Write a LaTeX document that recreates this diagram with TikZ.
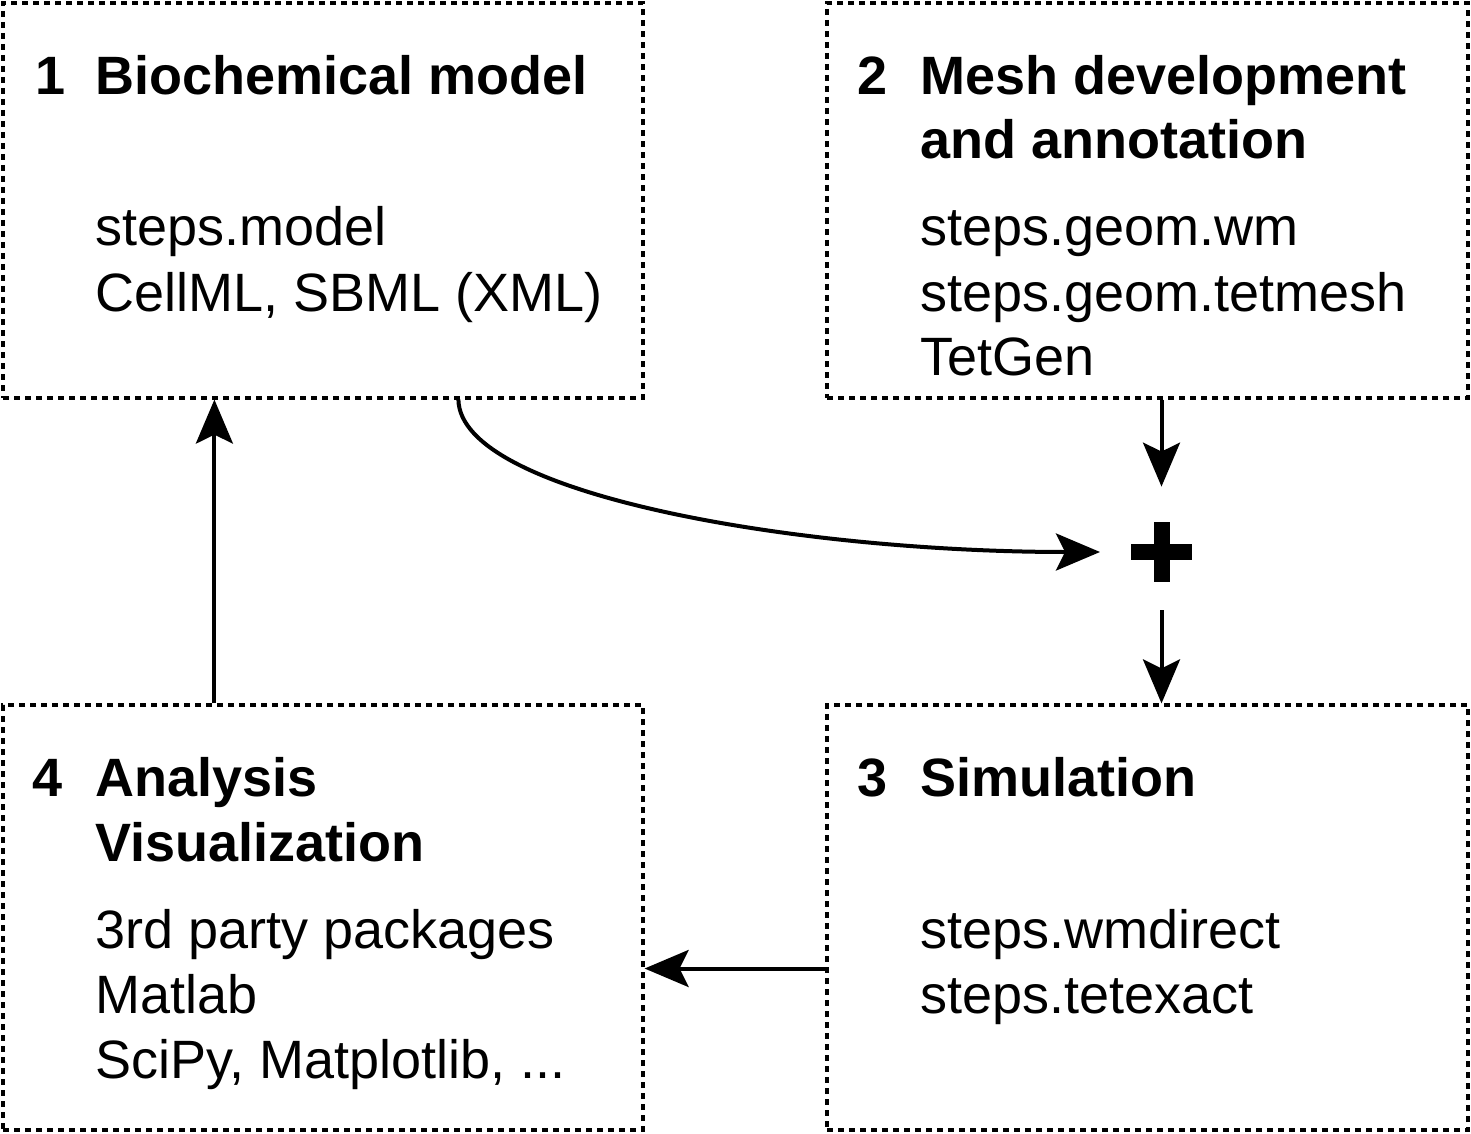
\documentclass[tikz,border=0pt]{standalone}
\usepackage{fontspec}
\setmainfont{Liberation Sans}
\usetikzlibrary{arrows.meta,calc}
\begin{document}
\begin{tikzpicture}[x=0.5pt,y=-0.5pt,
  box/.style={draw,line width=1.6pt,dash pattern=on 3pt off 2.5pt,inner sep=0pt,minimum width=320pt},
  num/.style={anchor=base west,inner sep=0pt,font=\fontsize{27}{32}\selectfont\bfseries},
  ttl/.style={anchor=base west,inner sep=0pt,font=\fontsize{27}{32}\selectfont\bfseries},
  txt/.style={anchor=base west,inner sep=0pt,font=\fontsize{27}{32}\selectfont},
  arr/.style={line width=2pt,-{Stealth[length=22pt,width=18.5pt,inset=4.5pt]}}]
\useasboundingbox (0,0) rectangle (1471,1134);
% boxes
\node[box,minimum height=197.5pt] (b1) at (323,200.5) {};
\node[box,minimum height=197.5pt,minimum width=320.5pt] (b2) at (1147.5,200.5) {};
\node[box,minimum height=212.5pt] (b4) at (323,917.5) {};
\node[box,minimum height=212.5pt,minimum width=320.5pt] (b3) at (1147.5,917.5) {};
% box 1
\node[num] (n1) at (35,95) {1};
\node[ttl] (t1) at (95,95) {Biochemical model};
\node[txt] (l11) at (95,246) {steps.model};
\node[txt] (l12) at (95,311) {CellML, SBML (XML)};
% box 2
\node[num] (n2) at (857,95) {2};
\node[ttl] (t2a) at (920,95) {Mesh development};
\node[ttl] (t2b) at (920,159) {and annotation};
\node[txt] (l21) at (920,246) {steps.geom.wm};
\node[txt] (l22) at (920,311) {steps.geom.tetmesh};
\node[txt] (l23) at (920,375) {TetGen};
% box 3
\node[num] (n3) at (857,796) {3};
\node[ttl] (t3) at (920,796) {Simulation};
\node[txt] (l31) at (920,948) {steps.wmdirect};
\node[txt] (l32) at (920,1013) {steps.tetexact};
% box 4
\node[num] (n4) at (32,796) {4};
\node[ttl] (t4a) at (95,796) {Analysis};
\node[ttl] (t4b) at (95,861) {Visualization};
\node[txt] (l41) at (95,948) {3rd party packages};
\node[txt] (l42) at (95,1013) {Matlab};
\node[txt] (l43) at (95,1078) {SciPy, Matplotlib, ...};
% plus
\node[inner sep=0pt,minimum size=31pt] (plus) at (1161.5,552) {};
\fill ($(plus.center)+(-30.5,-8)$) rectangle ($(plus.center)+(30.5,8)$);
\fill ($(plus.center)+(-8,-30)$) rectangle ($(plus.center)+(8,30)$);
% connectors
\coordinate (c1) at ($(b1.south west)+(457,0)$);
\coordinate (pin) at (1100,552);
\draw[arr] (c1) .. controls (460,495) and (800,552) .. (pin);
\draw[arr] (b2.south -| plus) -- ($(plus.north)+(0,-34)$);
\coordinate (pout) at ($(plus.south)+(0,27)$);
\draw[arr] (pout) -- (b3.north -| plus);
\coordinate (c3) at ($(b3.west)+(3,51)$);
\draw[arr] (c3) -- (c3 -| b4.east);
\coordinate (c4) at ($(b4.north west)+(213,0)$);
\draw[arr] (c4) -- (c4 |- b1.south);
\end{tikzpicture}
\end{document}
